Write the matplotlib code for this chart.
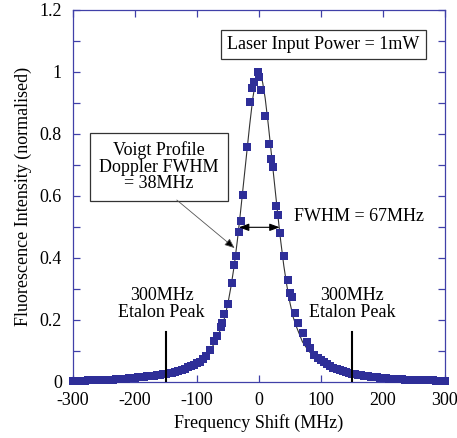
import matplotlib
matplotlib.use("Agg")
import matplotlib.pyplot as plt
from matplotlib.ticker import MultipleLocator

# ---- data ----
freq_left_wing = [-300, -295, -290, -285, -280, -275, -270, -265, -260, -255,
                  -250, -245, -240, -235, -230, -225, -220, -215, -210, -205,
                  -200, -195, -190, -185, -180, -175, -170, -165, -160, -155,
                  -150, -145, -140, -135, -130, -125, -120, -115, -110, -105,
                  -100, -95, -90, -85]
int_left_wing = [0.003, 0.003, 0.004, 0.004, 0.004, 0.005, 0.005, 0.005, 0.006, 0.006,
                 0.007, 0.007, 0.008, 0.008, 0.009, 0.010, 0.010, 0.011, 0.012, 0.013,
                 0.014, 0.015, 0.016, 0.017, 0.018, 0.019, 0.020, 0.022, 0.023, 0.025,
                 0.026, 0.028, 0.030, 0.033, 0.036, 0.039, 0.043, 0.047, 0.051, 0.055,
                 0.060, 0.066, 0.074, 0.085]

freq_core = [-78.5, -72.7, -67.8, -62.0, -59.8, -56.6, -49.5, -43.7, -40.5, -37.3,
             -32.5, -29.3, -26.5, -19.6, -14.0, -10.5, -8.8, -2.0, 0.8, 4.0,
             10.4, 15.8, 20.0, 22.3, 27.0, 30.3, 33.5, 40.5, 46.3, 50.0,
             52.7, 58.2, 63.5, 70.4, 76.8, 82.3, 89.0]
int_core = [0.103, 0.133, 0.149, 0.178, 0.189, 0.218, 0.252, 0.319, 0.376, 0.405,
            0.484, 0.519, 0.602, 0.757, 0.902, 0.950, 0.967, 1.000, 0.983, 0.941,
            0.859, 0.767, 0.718, 0.694, 0.567, 0.539, 0.480, 0.405, 0.328, 0.286,
            0.273, 0.224, 0.189, 0.157, 0.130, 0.111, 0.087]

freq_right_wing = [95, 100, 105, 110, 115, 120, 125, 130, 135, 140,
                   145, 150, 155, 160, 165, 170, 175, 180, 185, 190,
                   195, 200, 205, 210, 215, 220, 225, 230, 235, 240,
                   245, 250, 255, 260, 265, 270, 275, 280, 285, 290,
                   295, 300]
int_right_wing = [0.078, 0.070, 0.063, 0.057, 0.051, 0.046, 0.042, 0.038, 0.035, 0.032,
                  0.029, 0.027, 0.025, 0.023, 0.021, 0.020, 0.018, 0.017, 0.016, 0.015,
                  0.014, 0.013, 0.012, 0.011, 0.011, 0.010, 0.009, 0.009, 0.008, 0.008,
                  0.007, 0.007, 0.006, 0.006, 0.006, 0.005, 0.005, 0.005, 0.004, 0.004,
                  0.004, 0.004]

# Voigt fit curve
fit_freq = [-300, -250, -200, -150, -120, -100, -90, -80, -70, -60, -55, -50, -45,
            -40, -35, -30, -25, -20, -15, -10, -6, -3, 0, 3, 6, 10, 15, 20, 25,
            30, 35, 40, 45, 50, 55, 60, 70, 80, 90, 100, 120, 150, 200, 250, 300]
fit_int = [0.004, 0.007, 0.014, 0.027, 0.045, 0.065, 0.080, 0.100, 0.130, 0.180,
           0.210, 0.255, 0.310, 0.375, 0.455, 0.545, 0.640, 0.735, 0.830, 0.915,
           0.965, 0.990, 1.004, 0.990, 0.965, 0.915, 0.830, 0.735, 0.640, 0.545,
           0.455, 0.375, 0.310, 0.255, 0.210, 0.180, 0.130, 0.100, 0.080, 0.065,
           0.045, 0.027, 0.014, 0.007, 0.004]

etalon_freqs = [-150, 150]
etalon_height = 0.162

x_ticks = [-300, -200, -100, 0, 100, 200, 300]
y_ticks = [0, 0.2, 0.4, 0.6, 0.8, 1.0, 1.2]
y_tick_labels = ["0", "0.2", "0.4", "0.6", "0.8", "1", "1.2"]

# ---- style ----
plt.rcParams['font.family'] = ['Liberation Serif', 'DejaVu Serif']
FS = 13
axis_col = '#4040a8'
mark_col = '#2e2e98'

fig = plt.figure(figsize=(4.57, 4.38), dpi=100)
ax = fig.add_axes([73/457, 1 - 382/438, (445 - 73)/457, (382 - 10)/438])

freq_all = freq_left_wing + freq_core + freq_right_wing
int_all = int_left_wing + int_core + int_right_wing

ax.plot(fit_freq, fit_int, color='#333333', lw=0.8, zorder=2)
ax.plot(freq_all, int_all, linestyle='none', marker='s', markersize=5.6,
        color=mark_col, markeredgewidth=0, zorder=3, clip_on=False)

for xf in etalon_freqs:
    ax.plot([xf, xf], [0, etalon_height], color='black', lw=1.5, zorder=4)

ax.set_xlim(-300, 300)
ax.set_ylim(0, 1.2)
ax.set_xticks(x_ticks)
ax.set_xticklabels([str(v) for v in x_ticks])
ax.set_yticks(y_ticks)
ax.set_yticklabels(y_tick_labels)
ax.yaxis.set_minor_locator(MultipleLocator(0.1))

for s in ax.spines.values():
    s.set_color(axis_col)
    s.set_linewidth(0.9)
ax.tick_params(which='both', direction='in', top=True, right=True,
               color=axis_col, length=5, width=0.9, labelsize=FS,
               labelcolor='black')
ax.tick_params(axis='x', pad=7)
ax.tick_params(axis='y', pad=8)

ax.set_xlabel('Frequency Shift (MHz)', fontsize=FS, labelpad=4)
ax.set_ylabel('Fluorescence Intensity (normalised)', fontsize=FS, labelpad=5)

box = dict(boxstyle='square,pad=0.33', fc='white', ec='#333333', lw=0.9)
ax.text(104, 1.09, 'Laser Input Power = 1mW', fontsize=FS, ha='center',
        va='center', bbox=box)
ax.text(-161, 0.694, 'Voigt Profile\nDoppler FWHM\n= 38MHz', fontsize=FS,
        ha='center', va='center', linespacing=0.95,
        bbox=dict(boxstyle='square,pad=0.5', fc='white', ec='#333333', lw=0.9))
ax.annotate('', xy=(-39.4, 0.432), xytext=(-132.6, 0.587),
            arrowprops=dict(arrowstyle='-|>,head_length=0.6,head_width=0.25',
                            color='#555555', lw=0.6, shrinkA=0, shrinkB=0,
                            fc='black'))
ax.annotate('', xy=(-32.5, 0.499), xytext=(33.4, 0.499),
            arrowprops=dict(arrowstyle='<|-|>,head_length=0.6,head_width=0.22',
                            color='black', lw=0.8, shrinkA=0, shrinkB=0))
ax.text(57, 0.533, 'FWHM = 67MHz', fontsize=FS, ha='left', va='center')
ax.text(-157, 0.252, '300MHz\nEtalon Peak', fontsize=FS, ha='center',
        va='center', linespacing=0.95)
ax.text(150, 0.252, '300MHz\nEtalon Peak', fontsize=FS, ha='center',
        va='center', linespacing=0.95)

fig.savefig('out.png', dpi=100)
